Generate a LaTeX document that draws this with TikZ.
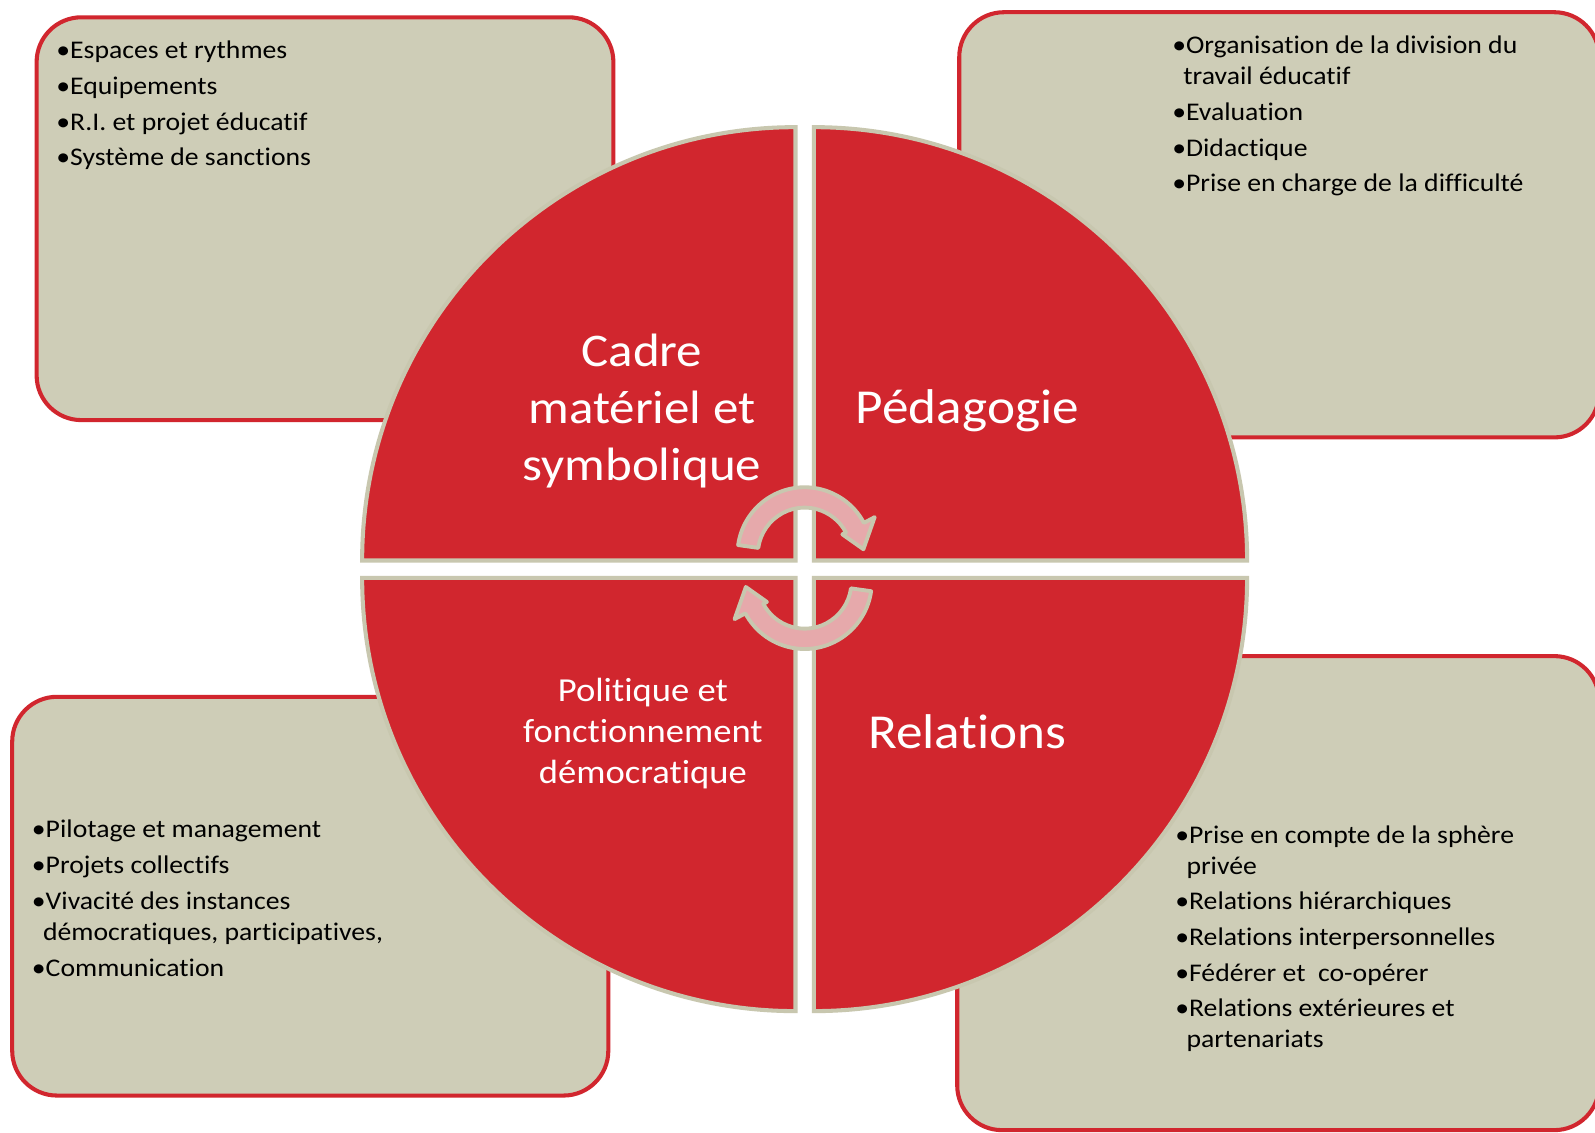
\documentclass[tikz,border=0pt]{standalone}
\usepackage{fontspec}
\setmainfont{Carlito}[FakeStretch=1.09,Ligatures=NoCommon]
\usepackage{tikz}
\usetikzlibrary{calc}
\definecolor{quadred}{HTML}{D1262E}
\definecolor{boxfill}{HTML}{CECDB7}
\definecolor{rimgray}{HTML}{C8C7AF}
\definecolor{arrowpink}{HTML}{E6A9AB}

\begin{document}
\begin{tikzpicture}[x=0.5pt,y=0.5pt,
  box/.style={draw=quadred,fill=boxfill,line width=2pt,rounded corners=22pt},
  quad/.style={draw=rimgray,fill=quadred,line width=2pt},
  turnarrow/.style={draw=rimgray,fill=arrowpink,line width=1.9pt,line join=round},
  list/.style={anchor=north west,inner sep=0pt,align=left,font=\fontsize{12.5}{15.25}\selectfont},
  title/.style={text=white,align=center,inner sep=0pt}]
\useasboundingbox (0,0) rectangle (1568,-1113);
\clip (0,0) rectangle (1568,-1113);
\fill[white] (0,0) rectangle (1568,-1113);
\draw[box] (36,-17) rectangle (603,-413);
\draw[box] (943,-12) rectangle (1572,-430);
\draw[box] (12,-685) rectangle (598,-1077);
\draw[box] (941,-645) rectangle (1572,-1111);
\draw[quad] (782,-551) -- ++(-426,0) arc[start angle=180,end angle=90,radius=426] -- cycle;
\draw[quad] (800,-551) -- ++(0,426) arc[start angle=90,end angle=0,radius=426] -- cycle;
\draw[quad] (782,-568) -- ++(0,-426) arc[start angle=270,end angle=180,radius=426] -- cycle;
\draw[quad] (800,-568) -- ++(426,0) arc[start angle=0,end angle=-90,radius=426] -- cycle;
\foreach \cy/\rot in {545/0,572/180}
  \draw[turnarrow,shift={(791,-\cy)},rotate=\rot]
    (172:66) arc[start angle=172,end angle=28,radius=66] -- (28:78) -- (5:58)
    -- (28:42) -- (28:46) arc[start angle=28,end angle=172,radius=46] -- cycle;
\node[list] (cadrelist) at (55,-40) {•Espaces et rythmes\\[2.3pt]•Equipements\\[2.3pt]•R.I. et projet éducatif\\[2.3pt]•Système de sanctions};
\node[list] (pedalist) at (1152,-35) {•Organisation de la division du\\\hspace*{5.5pt}travail éducatif\\[2.3pt]•Evaluation\\[2.3pt]•Didactique\\[2.3pt]•Prise en charge de la difficulté};
\node[list] (polilist) at (31,-806) {•Pilotage et management\\[2.3pt]•Projets collectifs\\[2.3pt]•Vivacité des instances\\\hspace*{5.5pt}démocratiques, participatives,\\[2.3pt]•Communication};
\node[list] (rellist) at (1155,-811) {•Prise en compte de la sphère\\\hspace*{5.5pt}privée\\[2.3pt]•Relations hiérarchiques\\[2.3pt]•Relations interpersonnelles\\[2.3pt]•Fédérer et~ co-opérer\\[2.3pt]•Relations extérieures et\\\hspace*{5.5pt}partenariats};
\node[title,font=\fontsize{23}{28}\selectfont] (cadre) at (631,-404) {Cadre\\matériel et\\symbolique};
\node[title,font=\fontsize{24}{29}\selectfont] (peda) at (951,-404) {Pédagogie};
\node[title,font=\fontsize{16.5}{20}\selectfont] (poli) at (632,-721) {Politique et\\fonctionnement\\démocratique};
\node[title,font=\fontsize{24}{29}\selectfont] (rel) at (951,-719) {Relations};
\end{tikzpicture}
\end{document}
